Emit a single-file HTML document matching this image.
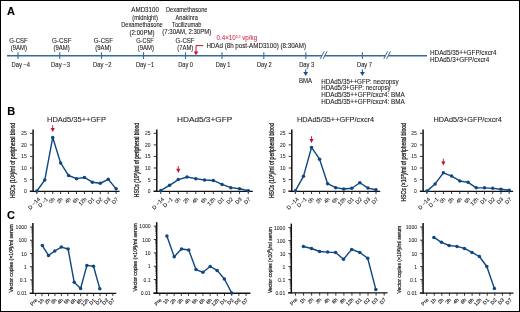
<!DOCTYPE html>
<html><head><meta charset="utf-8"><style>
html,body{margin:0;padding:0;background:#fff;}
svg{display:block;will-change:transform;}
text{font-family:"Liberation Sans", sans-serif;fill:#231f20;stroke:#231f20;stroke-width:0.1px;}
text.r{fill:#d21f45;stroke:#d21f45;stroke-width:0.05px;}
text.k{fill:#000;stroke:#000;}
</style></head><body>
<svg width="520" height="312" viewBox="0 0 520 312">
<rect x="0" y="0" width="520" height="312" fill="#fff"/>
<g fill="#231f20" class="t">
<text x="7.00" y="15.40" font-size="11" font-weight="bold" class="k">A</text>
<line x1="7.00" y1="55.70" x2="427.00" y2="55.70" stroke="#356a9a" stroke-width="1.4"/>
<line x1="18.00" y1="52.30" x2="18.00" y2="59.00" stroke="#356a9a" stroke-width="1.1"/>
<line x1="59.70" y1="52.30" x2="59.70" y2="59.00" stroke="#356a9a" stroke-width="1.1"/>
<line x1="101.50" y1="52.30" x2="101.50" y2="59.00" stroke="#356a9a" stroke-width="1.1"/>
<line x1="143.50" y1="52.30" x2="143.50" y2="59.00" stroke="#356a9a" stroke-width="1.1"/>
<line x1="185.50" y1="52.30" x2="185.50" y2="59.00" stroke="#356a9a" stroke-width="1.1"/>
<line x1="222.00" y1="52.30" x2="222.00" y2="59.00" stroke="#356a9a" stroke-width="1.1"/>
<line x1="263.80" y1="52.30" x2="263.80" y2="59.00" stroke="#356a9a" stroke-width="1.1"/>
<line x1="305.80" y1="52.30" x2="305.80" y2="59.00" stroke="#356a9a" stroke-width="1.1"/>
<line x1="362.40" y1="52.30" x2="362.40" y2="59.00" stroke="#356a9a" stroke-width="1.1"/>
<rect x="322.10" y="54.20" width="2.6" height="3" fill="#fff"/>
<line x1="320.40" y1="58.80" x2="324.20" y2="51.40" stroke="#356a9a" stroke-width="1.0"/>
<line x1="323.20" y1="58.80" x2="327.00" y2="51.40" stroke="#356a9a" stroke-width="1.0"/>
<rect x="385.50" y="54.20" width="2.6" height="3" fill="#fff"/>
<line x1="383.80" y1="58.80" x2="387.60" y2="51.40" stroke="#356a9a" stroke-width="1.0"/>
<line x1="386.60" y1="58.80" x2="390.40" y2="51.40" stroke="#356a9a" stroke-width="1.0"/>
<text x="9.15" y="42.90" font-size="6.4" textLength="18.65" lengthAdjust="spacingAndGlyphs">G-CSF</text>
<text x="10.80" y="50.10" font-size="6.4" textLength="16.10" lengthAdjust="spacingAndGlyphs">(9AM)</text>
<text x="11.50" y="66.90" font-size="6.4" textLength="18.60" lengthAdjust="spacingAndGlyphs">Day −4</text>
<text x="52.00" y="42.90" font-size="6.4" textLength="19.50" lengthAdjust="spacingAndGlyphs">G-CSF</text>
<text x="53.60" y="50.10" font-size="6.4" textLength="16.10" lengthAdjust="spacingAndGlyphs">(9AM)</text>
<text x="51.10" y="66.90" font-size="6.4" textLength="18.90" lengthAdjust="spacingAndGlyphs">Day −3</text>
<text x="93.80" y="42.90" font-size="6.4" textLength="19.20" lengthAdjust="spacingAndGlyphs">G-CSF</text>
<text x="95.20" y="50.10" font-size="6.4" textLength="16.10" lengthAdjust="spacingAndGlyphs">(9AM)</text>
<text x="93.00" y="66.90" font-size="6.4" textLength="18.50" lengthAdjust="spacingAndGlyphs">Day −2</text>
<text x="136.20" y="42.90" font-size="6.4" textLength="17.50" lengthAdjust="spacingAndGlyphs">G-CSF</text>
<text x="137.80" y="50.10" font-size="6.4" textLength="16.10" lengthAdjust="spacingAndGlyphs">(9AM)</text>
<text x="135.90" y="66.90" font-size="6.4" textLength="18.40" lengthAdjust="spacingAndGlyphs">Day −1</text>
<text x="175.60" y="42.90" font-size="6.4" textLength="19.00" lengthAdjust="spacingAndGlyphs">G-CSF</text>
<text x="177.30" y="50.10" font-size="6.4" textLength="15.90" lengthAdjust="spacingAndGlyphs">(7AM)</text>
<text x="178.20" y="66.90" font-size="6.4" textLength="14.80" lengthAdjust="spacingAndGlyphs">Day 0</text>
<text x="215.70" y="66.90" font-size="6.4" textLength="14.80" lengthAdjust="spacingAndGlyphs">Day 1</text>
<text x="256.90" y="66.90" font-size="6.4" textLength="14.80" lengthAdjust="spacingAndGlyphs">Day 2</text>
<text x="299.20" y="66.90" font-size="6.4" textLength="15.10" lengthAdjust="spacingAndGlyphs">Day 3</text>
<text x="357.00" y="66.90" font-size="6.4" textLength="15.00" lengthAdjust="spacingAndGlyphs">Day 7</text>
<text x="131.35" y="12.20" font-size="6.4" textLength="27.55" lengthAdjust="spacingAndGlyphs">AMD3100</text>
<text x="132.30" y="19.60" font-size="6.4" textLength="25.50" lengthAdjust="spacingAndGlyphs">(midnight)</text>
<text x="121.15" y="27.20" font-size="6.4" textLength="41.65" lengthAdjust="spacingAndGlyphs">Dexamethasone</text>
<text x="129.60" y="35.00" font-size="6.4" textLength="25.00" lengthAdjust="spacingAndGlyphs">(2:00PM)</text>
<text x="166.00" y="12.20" font-size="6.4" textLength="41.50" lengthAdjust="spacingAndGlyphs">Dexamethasone</text>
<text x="175.60" y="19.50" font-size="6.4" textLength="22.20" lengthAdjust="spacingAndGlyphs">Anakinra</text>
<text x="172.10" y="26.80" font-size="6.4" textLength="29.40" lengthAdjust="spacingAndGlyphs">Tocilizumab</text>
<text x="162.30" y="34.40" font-size="6.4" textLength="49.00" lengthAdjust="spacingAndGlyphs">(7:30AM, 2:30PM)</text>
<text class="r" x="216.5" y="40.2" font-size="6.3" textLength="40.7" lengthAdjust="spacingAndGlyphs">0.4×10<tspan font-size="4.3" dy="-2.4">12</tspan><tspan dy="2.4"> vp/kg</tspan></text>
<text x="206.40" y="48.20" font-size="6.4" textLength="99.60" lengthAdjust="spacingAndGlyphs">HDAd (8h post-AMD3100) (8:30AM)</text>
<path d="M203.2 45.6 H196 V52" fill="none" stroke="#c8102e" stroke-width="1"/>
<path d="M193.7 51.4 H198.3 L196 55.3 Z" fill="#c8102e"/>
<line x1="305.70" y1="69.40" x2="305.70" y2="73.10" stroke="#17508c" stroke-width="1"/>
<path d="M303.30 72.0 H308.10 L305.70 76.0 Z" fill="#17508c"/>
<line x1="362.40" y1="69.40" x2="362.40" y2="73.10" stroke="#17508c" stroke-width="1"/>
<path d="M360.00 72.0 H364.80 L362.40 76.0 Z" fill="#17508c"/>
<text x="299.00" y="83.00" font-size="6.4" textLength="13.00" lengthAdjust="spacingAndGlyphs">BMA</text>
<text x="321.25" y="83.60" font-size="6.3" textLength="77.25" lengthAdjust="spacingAndGlyphs">HDAd5/35++GFP: necropsy</text>
<text x="321.25" y="90.32" font-size="6.3" textLength="69.35" lengthAdjust="spacingAndGlyphs">HDAd5/3+GFP: necropsy</text>
<text x="321.25" y="97.04" font-size="6.3" textLength="83.45" lengthAdjust="spacingAndGlyphs">HDAd5/35++GFP/cxcr4: BMA</text>
<text x="321.25" y="103.76" font-size="6.3" textLength="83.45" lengthAdjust="spacingAndGlyphs">HDAd5/35++GFP/cxcr4: BMA</text>
<text x="430.00" y="54.50" font-size="6.4" textLength="66.50" lengthAdjust="spacingAndGlyphs">HDAd5/35++GFP/cxcr4</text>
<text x="430.00" y="61.50" font-size="6.4" textLength="59.20" lengthAdjust="spacingAndGlyphs">HDAd5/3+GFP/cxcr4</text>
<text x="7.20" y="115.10" font-size="11" font-weight="bold" class="k">B</text>
<text x="47.00" y="121.80" font-size="7.2" textLength="58.90" lengthAdjust="spacingAndGlyphs">HDAd5/35++GFP</text>
<line x1="33.10" y1="129.40" x2="33.10" y2="192.00" stroke="#111" stroke-width="1.5"/>
<line x1="29.80" y1="191.40" x2="119.60" y2="191.40" stroke="#111" stroke-width="1.4"/>
<line x1="30.00" y1="191.10" x2="32.80" y2="191.10" stroke="#231f20" stroke-width="0.9"/>
<text x="26.90" y="193.10" font-size="5.0" text-anchor="end" style="stroke-width:0.05px">0</text>
<line x1="30.00" y1="179.55" x2="32.80" y2="179.55" stroke="#231f20" stroke-width="0.9"/>
<text x="26.90" y="181.55" font-size="5.0" text-anchor="end" style="stroke-width:0.05px">5</text>
<line x1="30.00" y1="168.00" x2="32.80" y2="168.00" stroke="#231f20" stroke-width="0.9"/>
<text x="26.90" y="170.00" font-size="5.0" text-anchor="end" style="stroke-width:0.05px">10</text>
<line x1="30.00" y1="156.45" x2="32.80" y2="156.45" stroke="#231f20" stroke-width="0.9"/>
<text x="26.90" y="158.45" font-size="5.0" text-anchor="end" style="stroke-width:0.05px">15</text>
<line x1="30.00" y1="144.90" x2="32.80" y2="144.90" stroke="#231f20" stroke-width="0.9"/>
<text x="26.90" y="146.90" font-size="5.0" text-anchor="end" style="stroke-width:0.05px">20</text>
<line x1="30.00" y1="133.35" x2="32.80" y2="133.35" stroke="#231f20" stroke-width="0.9"/>
<text x="26.90" y="135.35" font-size="5.0" text-anchor="end" style="stroke-width:0.05px">25</text>
<line x1="36.85" y1="191.10" x2="36.85" y2="194.00" stroke="#231f20" stroke-width="0.9"/>
<text transform="translate(40.55,199.60) rotate(-45)" font-size="5.4" text-anchor="end" style="stroke-width:0.12px">D −14</text>
<line x1="44.78" y1="191.10" x2="44.78" y2="194.00" stroke="#231f20" stroke-width="0.9"/>
<text transform="translate(48.48,199.60) rotate(-45)" font-size="5.4" text-anchor="end" style="stroke-width:0.12px">D −1</text>
<line x1="52.71" y1="191.10" x2="52.71" y2="194.00" stroke="#231f20" stroke-width="0.9"/>
<text transform="translate(55.31,199.60) rotate(-45)" font-size="5.4" text-anchor="end" style="stroke-width:0.12px">0h</text>
<line x1="60.64" y1="191.10" x2="60.64" y2="194.00" stroke="#231f20" stroke-width="0.9"/>
<text transform="translate(63.24,199.60) rotate(-45)" font-size="5.4" text-anchor="end" style="stroke-width:0.12px">2h</text>
<line x1="68.57" y1="191.10" x2="68.57" y2="194.00" stroke="#231f20" stroke-width="0.9"/>
<text transform="translate(71.17,199.60) rotate(-45)" font-size="5.4" text-anchor="end" style="stroke-width:0.12px">4h</text>
<line x1="76.50" y1="191.10" x2="76.50" y2="194.00" stroke="#231f20" stroke-width="0.9"/>
<text transform="translate(79.10,199.60) rotate(-45)" font-size="5.4" text-anchor="end" style="stroke-width:0.12px">6h</text>
<line x1="84.43" y1="191.10" x2="84.43" y2="194.00" stroke="#231f20" stroke-width="0.9"/>
<text transform="translate(87.03,199.60) rotate(-45)" font-size="5.4" text-anchor="end" style="stroke-width:0.12px">12h</text>
<line x1="92.36" y1="191.10" x2="92.36" y2="194.00" stroke="#231f20" stroke-width="0.9"/>
<text transform="translate(94.96,199.60) rotate(-45)" font-size="5.4" text-anchor="end" style="stroke-width:0.12px">D1</text>
<line x1="100.29" y1="191.10" x2="100.29" y2="194.00" stroke="#231f20" stroke-width="0.9"/>
<text transform="translate(102.89,199.60) rotate(-45)" font-size="5.4" text-anchor="end" style="stroke-width:0.12px">D2</text>
<line x1="108.22" y1="191.10" x2="108.22" y2="194.00" stroke="#231f20" stroke-width="0.9"/>
<text transform="translate(110.82,199.60) rotate(-45)" font-size="5.4" text-anchor="end" style="stroke-width:0.12px">D3</text>
<line x1="116.15" y1="191.10" x2="116.15" y2="194.00" stroke="#231f20" stroke-width="0.9"/>
<text transform="translate(118.75,199.60) rotate(-45)" font-size="5.4" text-anchor="end" style="stroke-width:0.12px">D7</text>
<text transform="translate(15.40,160.45) rotate(-90)" font-size="6.4" text-anchor="middle" textLength="74.90" lengthAdjust="spacingAndGlyphs" style="stroke-width:0.3px">HSCs (10<tspan font-size="3.4" dy="-1.6">3</tspan><tspan dy="1.6">)/ml of peripheral blood</tspan></text>
<path d="M36.85 191.10 L44.78 180.01 L52.71 137.51 L60.64 162.92 L68.57 175.51 L76.50 178.63 L84.43 177.47 L92.36 182.21 L100.29 183.25 L108.22 179.32 L116.15 188.86" fill="none" stroke="#0e4781" stroke-width="1.4" stroke-linejoin="round"/>
<circle cx="36.85" cy="191.10" r="1.75" fill="#0e4781"/>
<circle cx="44.78" cy="180.01" r="1.75" fill="#0e4781"/>
<circle cx="52.71" cy="137.51" r="1.75" fill="#0e4781"/>
<circle cx="60.64" cy="162.92" r="1.75" fill="#0e4781"/>
<circle cx="68.57" cy="175.51" r="1.75" fill="#0e4781"/>
<circle cx="76.50" cy="178.63" r="1.75" fill="#0e4781"/>
<circle cx="84.43" cy="177.47" r="1.75" fill="#0e4781"/>
<circle cx="92.36" cy="182.21" r="1.75" fill="#0e4781"/>
<circle cx="100.29" cy="183.25" r="1.75" fill="#0e4781"/>
<circle cx="108.22" cy="179.32" r="1.75" fill="#0e4781"/>
<circle cx="116.15" cy="188.86" r="1.75" fill="#0e4781"/>
<line x1="52.71" y1="125.20" x2="52.71" y2="128.70" stroke="#c8102e" stroke-width="0.9"/>
<path d="M50.61 127.90 H54.81 L52.71 132.10 Z" fill="#c8102e"/>
<text x="177.00" y="121.80" font-size="7.2" textLength="55.20" lengthAdjust="spacingAndGlyphs">HDAd5/3+GFP</text>
<line x1="156.80" y1="129.40" x2="156.80" y2="192.00" stroke="#111" stroke-width="1.5"/>
<line x1="153.50" y1="191.40" x2="252.80" y2="191.40" stroke="#111" stroke-width="1.4"/>
<line x1="153.70" y1="191.10" x2="156.50" y2="191.10" stroke="#231f20" stroke-width="0.9"/>
<text x="150.60" y="193.10" font-size="5.0" text-anchor="end" style="stroke-width:0.05px">0</text>
<line x1="153.70" y1="179.55" x2="156.50" y2="179.55" stroke="#231f20" stroke-width="0.9"/>
<text x="150.60" y="181.55" font-size="5.0" text-anchor="end" style="stroke-width:0.05px">5</text>
<line x1="153.70" y1="168.00" x2="156.50" y2="168.00" stroke="#231f20" stroke-width="0.9"/>
<text x="150.60" y="170.00" font-size="5.0" text-anchor="end" style="stroke-width:0.05px">10</text>
<line x1="153.70" y1="156.45" x2="156.50" y2="156.45" stroke="#231f20" stroke-width="0.9"/>
<text x="150.60" y="158.45" font-size="5.0" text-anchor="end" style="stroke-width:0.05px">15</text>
<line x1="153.70" y1="144.90" x2="156.50" y2="144.90" stroke="#231f20" stroke-width="0.9"/>
<text x="150.60" y="146.90" font-size="5.0" text-anchor="end" style="stroke-width:0.05px">20</text>
<line x1="153.70" y1="133.35" x2="156.50" y2="133.35" stroke="#231f20" stroke-width="0.9"/>
<text x="150.60" y="135.35" font-size="5.0" text-anchor="end" style="stroke-width:0.05px">25</text>
<line x1="160.80" y1="191.10" x2="160.80" y2="194.00" stroke="#231f20" stroke-width="0.9"/>
<text transform="translate(164.50,199.60) rotate(-45)" font-size="5.4" text-anchor="end" style="stroke-width:0.12px">D −14</text>
<line x1="169.55" y1="191.10" x2="169.55" y2="194.00" stroke="#231f20" stroke-width="0.9"/>
<text transform="translate(173.25,199.60) rotate(-45)" font-size="5.4" text-anchor="end" style="stroke-width:0.12px">D −1</text>
<line x1="178.30" y1="191.10" x2="178.30" y2="194.00" stroke="#231f20" stroke-width="0.9"/>
<text transform="translate(180.90,199.60) rotate(-45)" font-size="5.4" text-anchor="end" style="stroke-width:0.12px">0h</text>
<line x1="187.05" y1="191.10" x2="187.05" y2="194.00" stroke="#231f20" stroke-width="0.9"/>
<text transform="translate(189.65,199.60) rotate(-45)" font-size="5.4" text-anchor="end" style="stroke-width:0.12px">2h</text>
<line x1="195.80" y1="191.10" x2="195.80" y2="194.00" stroke="#231f20" stroke-width="0.9"/>
<text transform="translate(198.40,199.60) rotate(-45)" font-size="5.4" text-anchor="end" style="stroke-width:0.12px">4h</text>
<line x1="204.55" y1="191.10" x2="204.55" y2="194.00" stroke="#231f20" stroke-width="0.9"/>
<text transform="translate(207.15,199.60) rotate(-45)" font-size="5.4" text-anchor="end" style="stroke-width:0.12px">6h</text>
<line x1="213.30" y1="191.10" x2="213.30" y2="194.00" stroke="#231f20" stroke-width="0.9"/>
<text transform="translate(215.90,199.60) rotate(-45)" font-size="5.4" text-anchor="end" style="stroke-width:0.12px">12h</text>
<line x1="222.05" y1="191.10" x2="222.05" y2="194.00" stroke="#231f20" stroke-width="0.9"/>
<text transform="translate(224.65,199.60) rotate(-45)" font-size="5.4" text-anchor="end" style="stroke-width:0.12px">D1</text>
<line x1="230.80" y1="191.10" x2="230.80" y2="194.00" stroke="#231f20" stroke-width="0.9"/>
<text transform="translate(233.40,199.60) rotate(-45)" font-size="5.4" text-anchor="end" style="stroke-width:0.12px">D2</text>
<line x1="239.55" y1="191.10" x2="239.55" y2="194.00" stroke="#231f20" stroke-width="0.9"/>
<text transform="translate(242.15,199.60) rotate(-45)" font-size="5.4" text-anchor="end" style="stroke-width:0.12px">D3</text>
<line x1="248.30" y1="191.10" x2="248.30" y2="194.00" stroke="#231f20" stroke-width="0.9"/>
<text transform="translate(250.90,199.60) rotate(-45)" font-size="5.4" text-anchor="end" style="stroke-width:0.12px">D7</text>
<text transform="translate(139.00,160.10) rotate(-90)" font-size="6.4" text-anchor="middle" textLength="74.20" lengthAdjust="spacingAndGlyphs" style="stroke-width:0.3px">HSCs (10<tspan font-size="3.4" dy="-1.6">3</tspan><tspan dy="1.6">)/ml of peripheral blood</tspan></text>
<path d="M160.80 190.41 L169.55 185.32 L178.30 179.55 L187.05 177.01 L195.80 178.63 L204.55 180.01 L213.30 180.47 L222.05 184.40 L230.80 187.63 L239.55 188.79 L248.30 190.75" fill="none" stroke="#0e4781" stroke-width="1.4" stroke-linejoin="round"/>
<circle cx="160.80" cy="190.41" r="1.75" fill="#0e4781"/>
<circle cx="169.55" cy="185.32" r="1.75" fill="#0e4781"/>
<circle cx="178.30" cy="179.55" r="1.75" fill="#0e4781"/>
<circle cx="187.05" cy="177.01" r="1.75" fill="#0e4781"/>
<circle cx="195.80" cy="178.63" r="1.75" fill="#0e4781"/>
<circle cx="204.55" cy="180.01" r="1.75" fill="#0e4781"/>
<circle cx="213.30" cy="180.47" r="1.75" fill="#0e4781"/>
<circle cx="222.05" cy="184.40" r="1.75" fill="#0e4781"/>
<circle cx="230.80" cy="187.63" r="1.75" fill="#0e4781"/>
<circle cx="239.55" cy="188.79" r="1.75" fill="#0e4781"/>
<circle cx="248.30" cy="190.75" r="1.75" fill="#0e4781"/>
<line x1="178.30" y1="166.00" x2="178.30" y2="169.50" stroke="#c8102e" stroke-width="0.9"/>
<path d="M176.20 168.70 H180.40 L178.30 172.90 Z" fill="#c8102e"/>
<text x="297.00" y="121.80" font-size="7.2" textLength="77.10" lengthAdjust="spacingAndGlyphs">HDAd5/35++GFP/cxcr4</text>
<line x1="291.80" y1="129.40" x2="291.80" y2="192.00" stroke="#111" stroke-width="1.5"/>
<line x1="288.50" y1="191.40" x2="380.20" y2="191.40" stroke="#111" stroke-width="1.4"/>
<line x1="288.70" y1="191.10" x2="291.50" y2="191.10" stroke="#231f20" stroke-width="0.9"/>
<text x="285.60" y="193.10" font-size="5.0" text-anchor="end" style="stroke-width:0.05px">0</text>
<line x1="288.70" y1="179.55" x2="291.50" y2="179.55" stroke="#231f20" stroke-width="0.9"/>
<text x="285.60" y="181.55" font-size="5.0" text-anchor="end" style="stroke-width:0.05px">5</text>
<line x1="288.70" y1="168.00" x2="291.50" y2="168.00" stroke="#231f20" stroke-width="0.9"/>
<text x="285.60" y="170.00" font-size="5.0" text-anchor="end" style="stroke-width:0.05px">10</text>
<line x1="288.70" y1="156.45" x2="291.50" y2="156.45" stroke="#231f20" stroke-width="0.9"/>
<text x="285.60" y="158.45" font-size="5.0" text-anchor="end" style="stroke-width:0.05px">15</text>
<line x1="288.70" y1="144.90" x2="291.50" y2="144.90" stroke="#231f20" stroke-width="0.9"/>
<text x="285.60" y="146.90" font-size="5.0" text-anchor="end" style="stroke-width:0.05px">20</text>
<line x1="288.70" y1="133.35" x2="291.50" y2="133.35" stroke="#231f20" stroke-width="0.9"/>
<text x="285.60" y="135.35" font-size="5.0" text-anchor="end" style="stroke-width:0.05px">25</text>
<line x1="295.40" y1="191.10" x2="295.40" y2="194.00" stroke="#231f20" stroke-width="0.9"/>
<text transform="translate(299.10,199.60) rotate(-45)" font-size="5.4" text-anchor="end" style="stroke-width:0.12px">D −14</text>
<line x1="303.46" y1="191.10" x2="303.46" y2="194.00" stroke="#231f20" stroke-width="0.9"/>
<text transform="translate(307.16,199.60) rotate(-45)" font-size="5.4" text-anchor="end" style="stroke-width:0.12px">D −1</text>
<line x1="311.52" y1="191.10" x2="311.52" y2="194.00" stroke="#231f20" stroke-width="0.9"/>
<text transform="translate(314.12,199.60) rotate(-45)" font-size="5.4" text-anchor="end" style="stroke-width:0.12px">0h</text>
<line x1="319.58" y1="191.10" x2="319.58" y2="194.00" stroke="#231f20" stroke-width="0.9"/>
<text transform="translate(322.18,199.60) rotate(-45)" font-size="5.4" text-anchor="end" style="stroke-width:0.12px">2h</text>
<line x1="327.64" y1="191.10" x2="327.64" y2="194.00" stroke="#231f20" stroke-width="0.9"/>
<text transform="translate(330.24,199.60) rotate(-45)" font-size="5.4" text-anchor="end" style="stroke-width:0.12px">4h</text>
<line x1="335.70" y1="191.10" x2="335.70" y2="194.00" stroke="#231f20" stroke-width="0.9"/>
<text transform="translate(338.30,199.60) rotate(-45)" font-size="5.4" text-anchor="end" style="stroke-width:0.12px">6h</text>
<line x1="343.76" y1="191.10" x2="343.76" y2="194.00" stroke="#231f20" stroke-width="0.9"/>
<text transform="translate(346.36,199.60) rotate(-45)" font-size="5.4" text-anchor="end" style="stroke-width:0.12px">12h</text>
<line x1="351.82" y1="191.10" x2="351.82" y2="194.00" stroke="#231f20" stroke-width="0.9"/>
<text transform="translate(354.42,199.60) rotate(-45)" font-size="5.4" text-anchor="end" style="stroke-width:0.12px">D1</text>
<line x1="359.88" y1="191.10" x2="359.88" y2="194.00" stroke="#231f20" stroke-width="0.9"/>
<text transform="translate(362.48,199.60) rotate(-45)" font-size="5.4" text-anchor="end" style="stroke-width:0.12px">D2</text>
<line x1="367.94" y1="191.10" x2="367.94" y2="194.00" stroke="#231f20" stroke-width="0.9"/>
<text transform="translate(370.54,199.60) rotate(-45)" font-size="5.4" text-anchor="end" style="stroke-width:0.12px">D3</text>
<line x1="376.00" y1="191.10" x2="376.00" y2="194.00" stroke="#231f20" stroke-width="0.9"/>
<text transform="translate(378.60,199.60) rotate(-45)" font-size="5.4" text-anchor="end" style="stroke-width:0.12px">D7</text>
<text transform="translate(274.00,160.70) rotate(-90)" font-size="6.4" text-anchor="middle" textLength="74.80" lengthAdjust="spacingAndGlyphs" style="stroke-width:0.3px">HSCs (10<tspan font-size="3.4" dy="-1.6">3</tspan><tspan dy="1.6">)/ml of peripheral blood</tspan></text>
<path d="M295.40 190.64 L303.46 176.32 L311.52 147.44 L319.58 159.22 L327.64 183.71 L335.70 187.63 L343.76 189.02 L351.82 188.21 L359.88 182.78 L367.94 188.10 L376.00 189.71" fill="none" stroke="#0e4781" stroke-width="1.4" stroke-linejoin="round"/>
<circle cx="295.40" cy="190.64" r="1.75" fill="#0e4781"/>
<circle cx="303.46" cy="176.32" r="1.75" fill="#0e4781"/>
<circle cx="311.52" cy="147.44" r="1.75" fill="#0e4781"/>
<circle cx="319.58" cy="159.22" r="1.75" fill="#0e4781"/>
<circle cx="327.64" cy="183.71" r="1.75" fill="#0e4781"/>
<circle cx="335.70" cy="187.63" r="1.75" fill="#0e4781"/>
<circle cx="343.76" cy="189.02" r="1.75" fill="#0e4781"/>
<circle cx="351.82" cy="188.21" r="1.75" fill="#0e4781"/>
<circle cx="359.88" cy="182.78" r="1.75" fill="#0e4781"/>
<circle cx="367.94" cy="188.10" r="1.75" fill="#0e4781"/>
<circle cx="376.00" cy="189.71" r="1.75" fill="#0e4781"/>
<line x1="311.52" y1="136.20" x2="311.52" y2="139.70" stroke="#c8102e" stroke-width="0.9"/>
<path d="M309.42 138.90 H313.62 L311.52 143.10 Z" fill="#c8102e"/>
<text x="433.50" y="121.80" font-size="7.2" textLength="68.30" lengthAdjust="spacingAndGlyphs">HDAd5/3+GFP/cxcr4</text>
<line x1="423.10" y1="129.40" x2="423.10" y2="192.00" stroke="#111" stroke-width="1.5"/>
<line x1="419.80" y1="191.40" x2="513.10" y2="191.40" stroke="#111" stroke-width="1.4"/>
<line x1="420.00" y1="191.10" x2="422.80" y2="191.10" stroke="#231f20" stroke-width="0.9"/>
<text x="416.90" y="193.10" font-size="5.0" text-anchor="end" style="stroke-width:0.05px">0</text>
<line x1="420.00" y1="179.55" x2="422.80" y2="179.55" stroke="#231f20" stroke-width="0.9"/>
<text x="416.90" y="181.55" font-size="5.0" text-anchor="end" style="stroke-width:0.05px">5</text>
<line x1="420.00" y1="168.00" x2="422.80" y2="168.00" stroke="#231f20" stroke-width="0.9"/>
<text x="416.90" y="170.00" font-size="5.0" text-anchor="end" style="stroke-width:0.05px">10</text>
<line x1="420.00" y1="156.45" x2="422.80" y2="156.45" stroke="#231f20" stroke-width="0.9"/>
<text x="416.90" y="158.45" font-size="5.0" text-anchor="end" style="stroke-width:0.05px">15</text>
<line x1="420.00" y1="144.90" x2="422.80" y2="144.90" stroke="#231f20" stroke-width="0.9"/>
<text x="416.90" y="146.90" font-size="5.0" text-anchor="end" style="stroke-width:0.05px">20</text>
<line x1="420.00" y1="133.35" x2="422.80" y2="133.35" stroke="#231f20" stroke-width="0.9"/>
<text x="416.90" y="135.35" font-size="5.0" text-anchor="end" style="stroke-width:0.05px">25</text>
<line x1="426.90" y1="191.10" x2="426.90" y2="194.00" stroke="#231f20" stroke-width="0.9"/>
<text transform="translate(430.60,199.60) rotate(-45)" font-size="5.4" text-anchor="end" style="stroke-width:0.12px">D −14</text>
<line x1="435.13" y1="191.10" x2="435.13" y2="194.00" stroke="#231f20" stroke-width="0.9"/>
<text transform="translate(438.83,199.60) rotate(-45)" font-size="5.4" text-anchor="end" style="stroke-width:0.12px">D −1</text>
<line x1="443.36" y1="191.10" x2="443.36" y2="194.00" stroke="#231f20" stroke-width="0.9"/>
<text transform="translate(445.96,199.60) rotate(-45)" font-size="5.4" text-anchor="end" style="stroke-width:0.12px">0h</text>
<line x1="451.59" y1="191.10" x2="451.59" y2="194.00" stroke="#231f20" stroke-width="0.9"/>
<text transform="translate(454.19,199.60) rotate(-45)" font-size="5.4" text-anchor="end" style="stroke-width:0.12px">2h</text>
<line x1="459.82" y1="191.10" x2="459.82" y2="194.00" stroke="#231f20" stroke-width="0.9"/>
<text transform="translate(462.42,199.60) rotate(-45)" font-size="5.4" text-anchor="end" style="stroke-width:0.12px">4h</text>
<line x1="468.05" y1="191.10" x2="468.05" y2="194.00" stroke="#231f20" stroke-width="0.9"/>
<text transform="translate(470.65,199.60) rotate(-45)" font-size="5.4" text-anchor="end" style="stroke-width:0.12px">6h</text>
<line x1="476.28" y1="191.10" x2="476.28" y2="194.00" stroke="#231f20" stroke-width="0.9"/>
<text transform="translate(478.88,199.60) rotate(-45)" font-size="5.4" text-anchor="end" style="stroke-width:0.12px">12h</text>
<line x1="484.51" y1="191.10" x2="484.51" y2="194.00" stroke="#231f20" stroke-width="0.9"/>
<text transform="translate(487.11,199.60) rotate(-45)" font-size="5.4" text-anchor="end" style="stroke-width:0.12px">D1</text>
<line x1="492.74" y1="191.10" x2="492.74" y2="194.00" stroke="#231f20" stroke-width="0.9"/>
<text transform="translate(495.34,199.60) rotate(-45)" font-size="5.4" text-anchor="end" style="stroke-width:0.12px">D2</text>
<line x1="500.97" y1="191.10" x2="500.97" y2="194.00" stroke="#231f20" stroke-width="0.9"/>
<text transform="translate(503.57,199.60) rotate(-45)" font-size="5.4" text-anchor="end" style="stroke-width:0.12px">D3</text>
<line x1="509.20" y1="191.10" x2="509.20" y2="194.00" stroke="#231f20" stroke-width="0.9"/>
<text transform="translate(511.80,199.60) rotate(-45)" font-size="5.4" text-anchor="end" style="stroke-width:0.12px">D7</text>
<text transform="translate(405.80,162.35) rotate(-90)" font-size="6.4" text-anchor="middle" textLength="78.50" lengthAdjust="spacingAndGlyphs" style="stroke-width:0.3px">HSCs (×10<tspan font-size="3.4" dy="-1.6">3</tspan><tspan dy="1.6">)/ml of peripheral blood</tspan></text>
<path d="M426.90 191.10 L435.13 183.94 L443.36 172.85 L451.59 176.08 L459.82 180.94 L468.05 182.32 L476.28 187.87 L484.51 187.87 L492.74 188.33 L500.97 189.25 L509.20 190.18" fill="none" stroke="#0e4781" stroke-width="1.4" stroke-linejoin="round"/>
<circle cx="426.90" cy="191.10" r="1.75" fill="#0e4781"/>
<circle cx="435.13" cy="183.94" r="1.75" fill="#0e4781"/>
<circle cx="443.36" cy="172.85" r="1.75" fill="#0e4781"/>
<circle cx="451.59" cy="176.08" r="1.75" fill="#0e4781"/>
<circle cx="459.82" cy="180.94" r="1.75" fill="#0e4781"/>
<circle cx="468.05" cy="182.32" r="1.75" fill="#0e4781"/>
<circle cx="476.28" cy="187.87" r="1.75" fill="#0e4781"/>
<circle cx="484.51" cy="187.87" r="1.75" fill="#0e4781"/>
<circle cx="492.74" cy="188.33" r="1.75" fill="#0e4781"/>
<circle cx="500.97" cy="189.25" r="1.75" fill="#0e4781"/>
<circle cx="509.20" cy="190.18" r="1.75" fill="#0e4781"/>
<line x1="443.36" y1="158.70" x2="443.36" y2="162.20" stroke="#c8102e" stroke-width="0.9"/>
<path d="M441.26 161.40 H445.46 L443.36 165.60 Z" fill="#c8102e"/>
<text x="6.90" y="219.40" font-size="11" font-weight="bold" class="k">C</text>
<line x1="32.90" y1="223.00" x2="32.90" y2="294.00" stroke="#111" stroke-width="1.5"/>
<line x1="29.60" y1="293.40" x2="116.30" y2="293.40" stroke="#111" stroke-width="1.4"/>
<line x1="30.00" y1="293.10" x2="32.60" y2="293.10" stroke="#231f20" stroke-width="0.9"/>
<text x="26.90" y="295.30" font-size="5.1" text-anchor="end" style="stroke-width:0.05px">0.01</text>
<line x1="31.40" y1="289.12" x2="32.60" y2="289.12" stroke="#231f20" stroke-width="0.6"/>
<line x1="31.40" y1="286.79" x2="32.60" y2="286.79" stroke="#231f20" stroke-width="0.6"/>
<line x1="31.40" y1="285.14" x2="32.60" y2="285.14" stroke="#231f20" stroke-width="0.6"/>
<line x1="31.40" y1="283.86" x2="32.60" y2="283.86" stroke="#231f20" stroke-width="0.6"/>
<line x1="31.40" y1="282.81" x2="32.60" y2="282.81" stroke="#231f20" stroke-width="0.6"/>
<line x1="31.40" y1="281.93" x2="32.60" y2="281.93" stroke="#231f20" stroke-width="0.6"/>
<line x1="31.40" y1="281.16" x2="32.60" y2="281.16" stroke="#231f20" stroke-width="0.6"/>
<line x1="31.40" y1="280.48" x2="32.60" y2="280.48" stroke="#231f20" stroke-width="0.6"/>
<line x1="30.00" y1="279.88" x2="32.60" y2="279.88" stroke="#231f20" stroke-width="0.9"/>
<text x="26.90" y="282.08" font-size="5.1" text-anchor="end" style="stroke-width:0.05px">0.1</text>
<line x1="31.40" y1="275.90" x2="32.60" y2="275.90" stroke="#231f20" stroke-width="0.6"/>
<line x1="31.40" y1="273.57" x2="32.60" y2="273.57" stroke="#231f20" stroke-width="0.6"/>
<line x1="31.40" y1="271.92" x2="32.60" y2="271.92" stroke="#231f20" stroke-width="0.6"/>
<line x1="31.40" y1="270.64" x2="32.60" y2="270.64" stroke="#231f20" stroke-width="0.6"/>
<line x1="31.40" y1="269.59" x2="32.60" y2="269.59" stroke="#231f20" stroke-width="0.6"/>
<line x1="31.40" y1="268.71" x2="32.60" y2="268.71" stroke="#231f20" stroke-width="0.6"/>
<line x1="31.40" y1="267.94" x2="32.60" y2="267.94" stroke="#231f20" stroke-width="0.6"/>
<line x1="31.40" y1="267.26" x2="32.60" y2="267.26" stroke="#231f20" stroke-width="0.6"/>
<line x1="30.00" y1="266.66" x2="32.60" y2="266.66" stroke="#231f20" stroke-width="0.9"/>
<text x="26.90" y="268.86" font-size="5.1" text-anchor="end" style="stroke-width:0.05px">1</text>
<line x1="31.40" y1="262.68" x2="32.60" y2="262.68" stroke="#231f20" stroke-width="0.6"/>
<line x1="31.40" y1="260.35" x2="32.60" y2="260.35" stroke="#231f20" stroke-width="0.6"/>
<line x1="31.40" y1="258.70" x2="32.60" y2="258.70" stroke="#231f20" stroke-width="0.6"/>
<line x1="31.40" y1="257.42" x2="32.60" y2="257.42" stroke="#231f20" stroke-width="0.6"/>
<line x1="31.40" y1="256.37" x2="32.60" y2="256.37" stroke="#231f20" stroke-width="0.6"/>
<line x1="31.40" y1="255.49" x2="32.60" y2="255.49" stroke="#231f20" stroke-width="0.6"/>
<line x1="31.40" y1="254.72" x2="32.60" y2="254.72" stroke="#231f20" stroke-width="0.6"/>
<line x1="31.40" y1="254.04" x2="32.60" y2="254.04" stroke="#231f20" stroke-width="0.6"/>
<line x1="30.00" y1="253.44" x2="32.60" y2="253.44" stroke="#231f20" stroke-width="0.9"/>
<text x="26.90" y="255.64" font-size="5.1" text-anchor="end" style="stroke-width:0.05px">10</text>
<line x1="31.40" y1="249.46" x2="32.60" y2="249.46" stroke="#231f20" stroke-width="0.6"/>
<line x1="31.40" y1="247.13" x2="32.60" y2="247.13" stroke="#231f20" stroke-width="0.6"/>
<line x1="31.40" y1="245.48" x2="32.60" y2="245.48" stroke="#231f20" stroke-width="0.6"/>
<line x1="31.40" y1="244.20" x2="32.60" y2="244.20" stroke="#231f20" stroke-width="0.6"/>
<line x1="31.40" y1="243.15" x2="32.60" y2="243.15" stroke="#231f20" stroke-width="0.6"/>
<line x1="31.40" y1="242.27" x2="32.60" y2="242.27" stroke="#231f20" stroke-width="0.6"/>
<line x1="31.40" y1="241.50" x2="32.60" y2="241.50" stroke="#231f20" stroke-width="0.6"/>
<line x1="31.40" y1="240.82" x2="32.60" y2="240.82" stroke="#231f20" stroke-width="0.6"/>
<line x1="30.00" y1="240.22" x2="32.60" y2="240.22" stroke="#231f20" stroke-width="0.9"/>
<text x="26.90" y="242.42" font-size="5.1" text-anchor="end" style="stroke-width:0.05px">100</text>
<line x1="31.40" y1="236.24" x2="32.60" y2="236.24" stroke="#231f20" stroke-width="0.6"/>
<line x1="31.40" y1="233.91" x2="32.60" y2="233.91" stroke="#231f20" stroke-width="0.6"/>
<line x1="31.40" y1="232.26" x2="32.60" y2="232.26" stroke="#231f20" stroke-width="0.6"/>
<line x1="31.40" y1="230.98" x2="32.60" y2="230.98" stroke="#231f20" stroke-width="0.6"/>
<line x1="31.40" y1="229.93" x2="32.60" y2="229.93" stroke="#231f20" stroke-width="0.6"/>
<line x1="31.40" y1="229.05" x2="32.60" y2="229.05" stroke="#231f20" stroke-width="0.6"/>
<line x1="31.40" y1="228.28" x2="32.60" y2="228.28" stroke="#231f20" stroke-width="0.6"/>
<line x1="31.40" y1="227.60" x2="32.60" y2="227.60" stroke="#231f20" stroke-width="0.6"/>
<line x1="30.00" y1="227.00" x2="32.60" y2="227.00" stroke="#231f20" stroke-width="0.9"/>
<text x="26.90" y="229.20" font-size="5.1" text-anchor="end" style="stroke-width:0.05px">1000</text>
<line x1="35.60" y1="293.10" x2="35.60" y2="296.10" stroke="#231f20" stroke-width="0.9"/>
<text transform="translate(37.80,300.60) rotate(-45)" font-size="5.1" text-anchor="end" style="stroke-width:0.15px">Pre</text>
<line x1="42.04" y1="293.10" x2="42.04" y2="296.10" stroke="#231f20" stroke-width="0.9"/>
<text transform="translate(44.24,300.60) rotate(-45)" font-size="5.1" text-anchor="end" style="stroke-width:0.15px">1h</text>
<line x1="48.48" y1="293.10" x2="48.48" y2="296.10" stroke="#231f20" stroke-width="0.9"/>
<text transform="translate(50.68,300.60) rotate(-45)" font-size="5.1" text-anchor="end" style="stroke-width:0.15px">2h</text>
<line x1="54.92" y1="293.10" x2="54.92" y2="296.10" stroke="#231f20" stroke-width="0.9"/>
<text transform="translate(57.12,300.60) rotate(-45)" font-size="5.1" text-anchor="end" style="stroke-width:0.15px">3h</text>
<line x1="61.36" y1="293.10" x2="61.36" y2="296.10" stroke="#231f20" stroke-width="0.9"/>
<text transform="translate(63.56,300.60) rotate(-45)" font-size="5.1" text-anchor="end" style="stroke-width:0.15px">4h</text>
<line x1="67.80" y1="293.10" x2="67.80" y2="296.10" stroke="#231f20" stroke-width="0.9"/>
<text transform="translate(70.00,300.60) rotate(-45)" font-size="5.1" text-anchor="end" style="stroke-width:0.15px">5h</text>
<line x1="74.24" y1="293.10" x2="74.24" y2="296.10" stroke="#231f20" stroke-width="0.9"/>
<text transform="translate(76.44,300.60) rotate(-45)" font-size="5.1" text-anchor="end" style="stroke-width:0.15px">6h</text>
<line x1="80.68" y1="293.10" x2="80.68" y2="296.10" stroke="#231f20" stroke-width="0.9"/>
<text transform="translate(82.88,300.60) rotate(-45)" font-size="5.1" text-anchor="end" style="stroke-width:0.15px">8h</text>
<line x1="87.12" y1="293.10" x2="87.12" y2="296.10" stroke="#231f20" stroke-width="0.9"/>
<text transform="translate(89.32,300.60) rotate(-45)" font-size="5.1" text-anchor="end" style="stroke-width:0.15px">12h</text>
<line x1="93.56" y1="293.10" x2="93.56" y2="296.10" stroke="#231f20" stroke-width="0.9"/>
<text transform="translate(95.76,300.60) rotate(-45)" font-size="5.1" text-anchor="end" style="stroke-width:0.15px">D1</text>
<line x1="100.00" y1="293.10" x2="100.00" y2="296.10" stroke="#231f20" stroke-width="0.9"/>
<text transform="translate(102.20,300.60) rotate(-45)" font-size="5.1" text-anchor="end" style="stroke-width:0.15px">D2</text>
<line x1="106.44" y1="293.10" x2="106.44" y2="296.10" stroke="#231f20" stroke-width="0.9"/>
<text transform="translate(108.64,300.60) rotate(-45)" font-size="5.1" text-anchor="end" style="stroke-width:0.15px">D3</text>
<line x1="112.88" y1="293.10" x2="112.88" y2="296.10" stroke="#231f20" stroke-width="0.9"/>
<text transform="translate(115.08,300.60) rotate(-45)" font-size="5.1" text-anchor="end" style="stroke-width:0.15px">D7</text>
<text transform="translate(13.30,258.40) rotate(-90)" font-size="6.0" text-anchor="middle" textLength="68.40" lengthAdjust="spacingAndGlyphs" style="stroke-width:0.25px">Vector copies (×10<tspan font-size="3.4" dy="-1.6">8</tspan><tspan dy="1.6">)/ml serum</tspan></text>
<path d="M42.30 245.60 L48.50 255.40 L54.80 251.00 L61.30 247.10 L68.10 249.00 L74.20 282.30 L80.60 288.50 L86.90 265.40 L93.50 266.30 L99.80 288.80" fill="none" stroke="#0e4781" stroke-width="1.4" stroke-linejoin="round"/>
<circle cx="42.30" cy="245.60" r="1.75" fill="#0e4781"/>
<circle cx="48.50" cy="255.40" r="1.75" fill="#0e4781"/>
<circle cx="54.80" cy="251.00" r="1.75" fill="#0e4781"/>
<circle cx="61.30" cy="247.10" r="1.75" fill="#0e4781"/>
<circle cx="68.10" cy="249.00" r="1.75" fill="#0e4781"/>
<circle cx="74.20" cy="282.30" r="1.75" fill="#0e4781"/>
<circle cx="80.60" cy="288.50" r="1.75" fill="#0e4781"/>
<circle cx="86.90" cy="265.40" r="1.75" fill="#0e4781"/>
<circle cx="93.50" cy="266.30" r="1.75" fill="#0e4781"/>
<circle cx="99.80" cy="288.80" r="1.75" fill="#0e4781"/>
<line x1="156.70" y1="222.20" x2="156.70" y2="293.80" stroke="#111" stroke-width="1.5"/>
<line x1="153.40" y1="293.20" x2="250.40" y2="293.20" stroke="#111" stroke-width="1.4"/>
<line x1="153.80" y1="292.90" x2="156.40" y2="292.90" stroke="#231f20" stroke-width="0.9"/>
<text x="150.70" y="295.10" font-size="5.1" text-anchor="end" style="stroke-width:0.05px">0.01</text>
<line x1="155.20" y1="288.88" x2="156.40" y2="288.88" stroke="#231f20" stroke-width="0.6"/>
<line x1="155.20" y1="286.54" x2="156.40" y2="286.54" stroke="#231f20" stroke-width="0.6"/>
<line x1="155.20" y1="284.87" x2="156.40" y2="284.87" stroke="#231f20" stroke-width="0.6"/>
<line x1="155.20" y1="283.58" x2="156.40" y2="283.58" stroke="#231f20" stroke-width="0.6"/>
<line x1="155.20" y1="282.52" x2="156.40" y2="282.52" stroke="#231f20" stroke-width="0.6"/>
<line x1="155.20" y1="281.63" x2="156.40" y2="281.63" stroke="#231f20" stroke-width="0.6"/>
<line x1="155.20" y1="280.85" x2="156.40" y2="280.85" stroke="#231f20" stroke-width="0.6"/>
<line x1="155.20" y1="280.17" x2="156.40" y2="280.17" stroke="#231f20" stroke-width="0.6"/>
<line x1="153.80" y1="279.56" x2="156.40" y2="279.56" stroke="#231f20" stroke-width="0.9"/>
<text x="150.70" y="281.76" font-size="5.1" text-anchor="end" style="stroke-width:0.05px">0.1</text>
<line x1="155.20" y1="275.54" x2="156.40" y2="275.54" stroke="#231f20" stroke-width="0.6"/>
<line x1="155.20" y1="273.20" x2="156.40" y2="273.20" stroke="#231f20" stroke-width="0.6"/>
<line x1="155.20" y1="271.53" x2="156.40" y2="271.53" stroke="#231f20" stroke-width="0.6"/>
<line x1="155.20" y1="270.24" x2="156.40" y2="270.24" stroke="#231f20" stroke-width="0.6"/>
<line x1="155.20" y1="269.18" x2="156.40" y2="269.18" stroke="#231f20" stroke-width="0.6"/>
<line x1="155.20" y1="268.29" x2="156.40" y2="268.29" stroke="#231f20" stroke-width="0.6"/>
<line x1="155.20" y1="267.51" x2="156.40" y2="267.51" stroke="#231f20" stroke-width="0.6"/>
<line x1="155.20" y1="266.83" x2="156.40" y2="266.83" stroke="#231f20" stroke-width="0.6"/>
<line x1="153.80" y1="266.22" x2="156.40" y2="266.22" stroke="#231f20" stroke-width="0.9"/>
<text x="150.70" y="268.42" font-size="5.1" text-anchor="end" style="stroke-width:0.05px">1</text>
<line x1="155.20" y1="262.20" x2="156.40" y2="262.20" stroke="#231f20" stroke-width="0.6"/>
<line x1="155.20" y1="259.86" x2="156.40" y2="259.86" stroke="#231f20" stroke-width="0.6"/>
<line x1="155.20" y1="258.19" x2="156.40" y2="258.19" stroke="#231f20" stroke-width="0.6"/>
<line x1="155.20" y1="256.90" x2="156.40" y2="256.90" stroke="#231f20" stroke-width="0.6"/>
<line x1="155.20" y1="255.84" x2="156.40" y2="255.84" stroke="#231f20" stroke-width="0.6"/>
<line x1="155.20" y1="254.95" x2="156.40" y2="254.95" stroke="#231f20" stroke-width="0.6"/>
<line x1="155.20" y1="254.17" x2="156.40" y2="254.17" stroke="#231f20" stroke-width="0.6"/>
<line x1="155.20" y1="253.49" x2="156.40" y2="253.49" stroke="#231f20" stroke-width="0.6"/>
<line x1="153.80" y1="252.88" x2="156.40" y2="252.88" stroke="#231f20" stroke-width="0.9"/>
<text x="150.70" y="255.08" font-size="5.1" text-anchor="end" style="stroke-width:0.05px">10</text>
<line x1="155.20" y1="248.86" x2="156.40" y2="248.86" stroke="#231f20" stroke-width="0.6"/>
<line x1="155.20" y1="246.52" x2="156.40" y2="246.52" stroke="#231f20" stroke-width="0.6"/>
<line x1="155.20" y1="244.85" x2="156.40" y2="244.85" stroke="#231f20" stroke-width="0.6"/>
<line x1="155.20" y1="243.56" x2="156.40" y2="243.56" stroke="#231f20" stroke-width="0.6"/>
<line x1="155.20" y1="242.50" x2="156.40" y2="242.50" stroke="#231f20" stroke-width="0.6"/>
<line x1="155.20" y1="241.61" x2="156.40" y2="241.61" stroke="#231f20" stroke-width="0.6"/>
<line x1="155.20" y1="240.83" x2="156.40" y2="240.83" stroke="#231f20" stroke-width="0.6"/>
<line x1="155.20" y1="240.15" x2="156.40" y2="240.15" stroke="#231f20" stroke-width="0.6"/>
<line x1="153.80" y1="239.54" x2="156.40" y2="239.54" stroke="#231f20" stroke-width="0.9"/>
<text x="150.70" y="241.74" font-size="5.1" text-anchor="end" style="stroke-width:0.05px">100</text>
<line x1="155.20" y1="235.52" x2="156.40" y2="235.52" stroke="#231f20" stroke-width="0.6"/>
<line x1="155.20" y1="233.18" x2="156.40" y2="233.18" stroke="#231f20" stroke-width="0.6"/>
<line x1="155.20" y1="231.51" x2="156.40" y2="231.51" stroke="#231f20" stroke-width="0.6"/>
<line x1="155.20" y1="230.22" x2="156.40" y2="230.22" stroke="#231f20" stroke-width="0.6"/>
<line x1="155.20" y1="229.16" x2="156.40" y2="229.16" stroke="#231f20" stroke-width="0.6"/>
<line x1="155.20" y1="228.27" x2="156.40" y2="228.27" stroke="#231f20" stroke-width="0.6"/>
<line x1="155.20" y1="227.49" x2="156.40" y2="227.49" stroke="#231f20" stroke-width="0.6"/>
<line x1="155.20" y1="226.81" x2="156.40" y2="226.81" stroke="#231f20" stroke-width="0.6"/>
<line x1="153.80" y1="226.20" x2="156.40" y2="226.20" stroke="#231f20" stroke-width="0.9"/>
<text x="150.70" y="228.40" font-size="5.1" text-anchor="end" style="stroke-width:0.05px">1000</text>
<line x1="159.80" y1="292.90" x2="159.80" y2="295.90" stroke="#231f20" stroke-width="0.9"/>
<text transform="translate(162.00,300.40) rotate(-45)" font-size="5.1" text-anchor="end" style="stroke-width:0.15px">Pre</text>
<line x1="166.99" y1="292.90" x2="166.99" y2="295.90" stroke="#231f20" stroke-width="0.9"/>
<text transform="translate(169.19,300.40) rotate(-45)" font-size="5.1" text-anchor="end" style="stroke-width:0.15px">1h</text>
<line x1="174.18" y1="292.90" x2="174.18" y2="295.90" stroke="#231f20" stroke-width="0.9"/>
<text transform="translate(176.38,300.40) rotate(-45)" font-size="5.1" text-anchor="end" style="stroke-width:0.15px">2h</text>
<line x1="181.37" y1="292.90" x2="181.37" y2="295.90" stroke="#231f20" stroke-width="0.9"/>
<text transform="translate(183.57,300.40) rotate(-45)" font-size="5.1" text-anchor="end" style="stroke-width:0.15px">3h</text>
<line x1="188.56" y1="292.90" x2="188.56" y2="295.90" stroke="#231f20" stroke-width="0.9"/>
<text transform="translate(190.76,300.40) rotate(-45)" font-size="5.1" text-anchor="end" style="stroke-width:0.15px">4h</text>
<line x1="195.75" y1="292.90" x2="195.75" y2="295.90" stroke="#231f20" stroke-width="0.9"/>
<text transform="translate(197.95,300.40) rotate(-45)" font-size="5.1" text-anchor="end" style="stroke-width:0.15px">5h</text>
<line x1="202.94" y1="292.90" x2="202.94" y2="295.90" stroke="#231f20" stroke-width="0.9"/>
<text transform="translate(205.14,300.40) rotate(-45)" font-size="5.1" text-anchor="end" style="stroke-width:0.15px">6h</text>
<line x1="210.13" y1="292.90" x2="210.13" y2="295.90" stroke="#231f20" stroke-width="0.9"/>
<text transform="translate(212.33,300.40) rotate(-45)" font-size="5.1" text-anchor="end" style="stroke-width:0.15px">8h</text>
<line x1="217.32" y1="292.90" x2="217.32" y2="295.90" stroke="#231f20" stroke-width="0.9"/>
<text transform="translate(219.52,300.40) rotate(-45)" font-size="5.1" text-anchor="end" style="stroke-width:0.15px">12h</text>
<line x1="224.51" y1="292.90" x2="224.51" y2="295.90" stroke="#231f20" stroke-width="0.9"/>
<text transform="translate(226.71,300.40) rotate(-45)" font-size="5.1" text-anchor="end" style="stroke-width:0.15px">D1</text>
<line x1="231.70" y1="292.90" x2="231.70" y2="295.90" stroke="#231f20" stroke-width="0.9"/>
<text transform="translate(233.90,300.40) rotate(-45)" font-size="5.1" text-anchor="end" style="stroke-width:0.15px">D2</text>
<line x1="238.89" y1="292.90" x2="238.89" y2="295.90" stroke="#231f20" stroke-width="0.9"/>
<text transform="translate(241.09,300.40) rotate(-45)" font-size="5.1" text-anchor="end" style="stroke-width:0.15px">D3</text>
<line x1="246.08" y1="292.90" x2="246.08" y2="295.90" stroke="#231f20" stroke-width="0.9"/>
<text transform="translate(248.28,300.40) rotate(-45)" font-size="5.1" text-anchor="end" style="stroke-width:0.15px">D7</text>
<text transform="translate(137.10,257.40) rotate(-90)" font-size="6.0" text-anchor="middle" textLength="68.40" lengthAdjust="spacingAndGlyphs" style="stroke-width:0.25px">Vector copies (×10<tspan font-size="3.4" dy="-1.6">8</tspan><tspan dy="1.6">)/ml serum</tspan></text>
<path d="M166.90 236.00 L174.20 256.70 L181.50 249.00 L188.75 250.00 L196.00 269.60 L202.90 272.30 L210.20 266.50 L217.10 270.40 L224.40 279.00 L231.70 292.90" fill="none" stroke="#0e4781" stroke-width="1.4" stroke-linejoin="round"/>
<circle cx="166.90" cy="236.00" r="1.75" fill="#0e4781"/>
<circle cx="174.20" cy="256.70" r="1.75" fill="#0e4781"/>
<circle cx="181.50" cy="249.00" r="1.75" fill="#0e4781"/>
<circle cx="188.75" cy="250.00" r="1.75" fill="#0e4781"/>
<circle cx="196.00" cy="269.60" r="1.75" fill="#0e4781"/>
<circle cx="202.90" cy="272.30" r="1.75" fill="#0e4781"/>
<circle cx="210.20" cy="266.50" r="1.75" fill="#0e4781"/>
<circle cx="217.10" cy="270.40" r="1.75" fill="#0e4781"/>
<circle cx="224.40" cy="279.00" r="1.75" fill="#0e4781"/>
<circle cx="231.70" cy="292.90" r="1.75" fill="#0e4781"/>
<line x1="291.30" y1="223.60" x2="291.30" y2="293.50" stroke="#111" stroke-width="1.5"/>
<line x1="288.00" y1="292.90" x2="387.50" y2="292.90" stroke="#111" stroke-width="1.4"/>
<line x1="288.40" y1="292.60" x2="291.00" y2="292.60" stroke="#231f20" stroke-width="0.9"/>
<text x="285.30" y="294.80" font-size="5.1" text-anchor="end" style="stroke-width:0.05px">0.01</text>
<line x1="289.80" y1="288.69" x2="291.00" y2="288.69" stroke="#231f20" stroke-width="0.6"/>
<line x1="289.80" y1="286.40" x2="291.00" y2="286.40" stroke="#231f20" stroke-width="0.6"/>
<line x1="289.80" y1="284.77" x2="291.00" y2="284.77" stroke="#231f20" stroke-width="0.6"/>
<line x1="289.80" y1="283.51" x2="291.00" y2="283.51" stroke="#231f20" stroke-width="0.6"/>
<line x1="289.80" y1="282.48" x2="291.00" y2="282.48" stroke="#231f20" stroke-width="0.6"/>
<line x1="289.80" y1="281.61" x2="291.00" y2="281.61" stroke="#231f20" stroke-width="0.6"/>
<line x1="289.80" y1="280.86" x2="291.00" y2="280.86" stroke="#231f20" stroke-width="0.6"/>
<line x1="289.80" y1="280.19" x2="291.00" y2="280.19" stroke="#231f20" stroke-width="0.6"/>
<line x1="288.40" y1="279.60" x2="291.00" y2="279.60" stroke="#231f20" stroke-width="0.9"/>
<text x="285.30" y="281.80" font-size="5.1" text-anchor="end" style="stroke-width:0.05px">0.1</text>
<line x1="289.80" y1="275.69" x2="291.00" y2="275.69" stroke="#231f20" stroke-width="0.6"/>
<line x1="289.80" y1="273.40" x2="291.00" y2="273.40" stroke="#231f20" stroke-width="0.6"/>
<line x1="289.80" y1="271.77" x2="291.00" y2="271.77" stroke="#231f20" stroke-width="0.6"/>
<line x1="289.80" y1="270.51" x2="291.00" y2="270.51" stroke="#231f20" stroke-width="0.6"/>
<line x1="289.80" y1="269.48" x2="291.00" y2="269.48" stroke="#231f20" stroke-width="0.6"/>
<line x1="289.80" y1="268.61" x2="291.00" y2="268.61" stroke="#231f20" stroke-width="0.6"/>
<line x1="289.80" y1="267.86" x2="291.00" y2="267.86" stroke="#231f20" stroke-width="0.6"/>
<line x1="289.80" y1="267.19" x2="291.00" y2="267.19" stroke="#231f20" stroke-width="0.6"/>
<line x1="288.40" y1="266.60" x2="291.00" y2="266.60" stroke="#231f20" stroke-width="0.9"/>
<text x="285.30" y="268.80" font-size="5.1" text-anchor="end" style="stroke-width:0.05px">1</text>
<line x1="289.80" y1="262.69" x2="291.00" y2="262.69" stroke="#231f20" stroke-width="0.6"/>
<line x1="289.80" y1="260.40" x2="291.00" y2="260.40" stroke="#231f20" stroke-width="0.6"/>
<line x1="289.80" y1="258.77" x2="291.00" y2="258.77" stroke="#231f20" stroke-width="0.6"/>
<line x1="289.80" y1="257.51" x2="291.00" y2="257.51" stroke="#231f20" stroke-width="0.6"/>
<line x1="289.80" y1="256.48" x2="291.00" y2="256.48" stroke="#231f20" stroke-width="0.6"/>
<line x1="289.80" y1="255.61" x2="291.00" y2="255.61" stroke="#231f20" stroke-width="0.6"/>
<line x1="289.80" y1="254.86" x2="291.00" y2="254.86" stroke="#231f20" stroke-width="0.6"/>
<line x1="289.80" y1="254.19" x2="291.00" y2="254.19" stroke="#231f20" stroke-width="0.6"/>
<line x1="288.40" y1="253.60" x2="291.00" y2="253.60" stroke="#231f20" stroke-width="0.9"/>
<text x="285.30" y="255.80" font-size="5.1" text-anchor="end" style="stroke-width:0.05px">10</text>
<line x1="289.80" y1="249.69" x2="291.00" y2="249.69" stroke="#231f20" stroke-width="0.6"/>
<line x1="289.80" y1="247.40" x2="291.00" y2="247.40" stroke="#231f20" stroke-width="0.6"/>
<line x1="289.80" y1="245.77" x2="291.00" y2="245.77" stroke="#231f20" stroke-width="0.6"/>
<line x1="289.80" y1="244.51" x2="291.00" y2="244.51" stroke="#231f20" stroke-width="0.6"/>
<line x1="289.80" y1="243.48" x2="291.00" y2="243.48" stroke="#231f20" stroke-width="0.6"/>
<line x1="289.80" y1="242.61" x2="291.00" y2="242.61" stroke="#231f20" stroke-width="0.6"/>
<line x1="289.80" y1="241.86" x2="291.00" y2="241.86" stroke="#231f20" stroke-width="0.6"/>
<line x1="289.80" y1="241.19" x2="291.00" y2="241.19" stroke="#231f20" stroke-width="0.6"/>
<line x1="288.40" y1="240.60" x2="291.00" y2="240.60" stroke="#231f20" stroke-width="0.9"/>
<text x="285.30" y="242.80" font-size="5.1" text-anchor="end" style="stroke-width:0.05px">100</text>
<line x1="289.80" y1="236.69" x2="291.00" y2="236.69" stroke="#231f20" stroke-width="0.6"/>
<line x1="289.80" y1="234.40" x2="291.00" y2="234.40" stroke="#231f20" stroke-width="0.6"/>
<line x1="289.80" y1="232.77" x2="291.00" y2="232.77" stroke="#231f20" stroke-width="0.6"/>
<line x1="289.80" y1="231.51" x2="291.00" y2="231.51" stroke="#231f20" stroke-width="0.6"/>
<line x1="289.80" y1="230.48" x2="291.00" y2="230.48" stroke="#231f20" stroke-width="0.6"/>
<line x1="289.80" y1="229.61" x2="291.00" y2="229.61" stroke="#231f20" stroke-width="0.6"/>
<line x1="289.80" y1="228.86" x2="291.00" y2="228.86" stroke="#231f20" stroke-width="0.6"/>
<line x1="289.80" y1="228.19" x2="291.00" y2="228.19" stroke="#231f20" stroke-width="0.6"/>
<line x1="288.40" y1="227.60" x2="291.00" y2="227.60" stroke="#231f20" stroke-width="0.9"/>
<text x="285.30" y="229.80" font-size="5.1" text-anchor="end" style="stroke-width:0.05px">1000</text>
<line x1="295.50" y1="292.60" x2="295.50" y2="295.60" stroke="#231f20" stroke-width="0.9"/>
<text transform="translate(297.70,300.10) rotate(-45)" font-size="5.1" text-anchor="end" style="stroke-width:0.15px">Pre</text>
<line x1="303.56" y1="292.60" x2="303.56" y2="295.60" stroke="#231f20" stroke-width="0.9"/>
<text transform="translate(305.76,300.10) rotate(-45)" font-size="5.1" text-anchor="end" style="stroke-width:0.15px">1h</text>
<line x1="311.62" y1="292.60" x2="311.62" y2="295.60" stroke="#231f20" stroke-width="0.9"/>
<text transform="translate(313.82,300.10) rotate(-45)" font-size="5.1" text-anchor="end" style="stroke-width:0.15px">2h</text>
<line x1="319.68" y1="292.60" x2="319.68" y2="295.60" stroke="#231f20" stroke-width="0.9"/>
<text transform="translate(321.88,300.10) rotate(-45)" font-size="5.1" text-anchor="end" style="stroke-width:0.15px">3h</text>
<line x1="327.74" y1="292.60" x2="327.74" y2="295.60" stroke="#231f20" stroke-width="0.9"/>
<text transform="translate(329.94,300.10) rotate(-45)" font-size="5.1" text-anchor="end" style="stroke-width:0.15px">4h</text>
<line x1="335.80" y1="292.60" x2="335.80" y2="295.60" stroke="#231f20" stroke-width="0.9"/>
<text transform="translate(338.00,300.10) rotate(-45)" font-size="5.1" text-anchor="end" style="stroke-width:0.15px">6h</text>
<line x1="343.86" y1="292.60" x2="343.86" y2="295.60" stroke="#231f20" stroke-width="0.9"/>
<text transform="translate(346.06,300.10) rotate(-45)" font-size="5.1" text-anchor="end" style="stroke-width:0.15px">8h</text>
<line x1="351.92" y1="292.60" x2="351.92" y2="295.60" stroke="#231f20" stroke-width="0.9"/>
<text transform="translate(354.12,300.10) rotate(-45)" font-size="5.1" text-anchor="end" style="stroke-width:0.15px">12h</text>
<line x1="359.98" y1="292.60" x2="359.98" y2="295.60" stroke="#231f20" stroke-width="0.9"/>
<text transform="translate(362.18,300.10) rotate(-45)" font-size="5.1" text-anchor="end" style="stroke-width:0.15px">D1</text>
<line x1="368.04" y1="292.60" x2="368.04" y2="295.60" stroke="#231f20" stroke-width="0.9"/>
<text transform="translate(370.24,300.10) rotate(-45)" font-size="5.1" text-anchor="end" style="stroke-width:0.15px">D2</text>
<line x1="376.10" y1="292.60" x2="376.10" y2="295.60" stroke="#231f20" stroke-width="0.9"/>
<text transform="translate(378.30,300.10) rotate(-45)" font-size="5.1" text-anchor="end" style="stroke-width:0.15px">D3</text>
<line x1="384.16" y1="292.60" x2="384.16" y2="295.60" stroke="#231f20" stroke-width="0.9"/>
<text transform="translate(386.36,300.10) rotate(-45)" font-size="5.1" text-anchor="end" style="stroke-width:0.15px">D7</text>
<text transform="translate(271.50,260.00) rotate(-90)" font-size="6.0" text-anchor="middle" textLength="65.80" lengthAdjust="spacingAndGlyphs" style="stroke-width:0.25px">Vector copies (×10<tspan font-size="3.4" dy="-1.6">8</tspan><tspan dy="1.6">)/ml serum</tspan></text>
<path d="M303.40 246.50 L311.50 248.50 L319.60 251.50 L327.70 252.10 L335.60 252.50 L343.50 259.20 L351.70 249.40 L359.80 252.50 L367.70 258.30 L375.80 289.40" fill="none" stroke="#0e4781" stroke-width="1.4" stroke-linejoin="round"/>
<circle cx="303.40" cy="246.50" r="1.75" fill="#0e4781"/>
<circle cx="311.50" cy="248.50" r="1.75" fill="#0e4781"/>
<circle cx="319.60" cy="251.50" r="1.75" fill="#0e4781"/>
<circle cx="327.70" cy="252.10" r="1.75" fill="#0e4781"/>
<circle cx="335.60" cy="252.50" r="1.75" fill="#0e4781"/>
<circle cx="343.50" cy="259.20" r="1.75" fill="#0e4781"/>
<circle cx="351.70" cy="249.40" r="1.75" fill="#0e4781"/>
<circle cx="359.80" cy="252.50" r="1.75" fill="#0e4781"/>
<circle cx="367.70" cy="258.30" r="1.75" fill="#0e4781"/>
<circle cx="375.80" cy="289.40" r="1.75" fill="#0e4781"/>
<line x1="423.10" y1="223.00" x2="423.10" y2="293.70" stroke="#111" stroke-width="1.5"/>
<line x1="419.80" y1="293.10" x2="513.50" y2="293.10" stroke="#111" stroke-width="1.4"/>
<line x1="420.20" y1="292.80" x2="422.80" y2="292.80" stroke="#231f20" stroke-width="0.9"/>
<text x="417.10" y="295.00" font-size="5.1" text-anchor="end" style="stroke-width:0.05px">0.01</text>
<line x1="421.60" y1="288.84" x2="422.80" y2="288.84" stroke="#231f20" stroke-width="0.6"/>
<line x1="421.60" y1="286.52" x2="422.80" y2="286.52" stroke="#231f20" stroke-width="0.6"/>
<line x1="421.60" y1="284.88" x2="422.80" y2="284.88" stroke="#231f20" stroke-width="0.6"/>
<line x1="421.60" y1="283.60" x2="422.80" y2="283.60" stroke="#231f20" stroke-width="0.6"/>
<line x1="421.60" y1="282.56" x2="422.80" y2="282.56" stroke="#231f20" stroke-width="0.6"/>
<line x1="421.60" y1="281.68" x2="422.80" y2="281.68" stroke="#231f20" stroke-width="0.6"/>
<line x1="421.60" y1="280.92" x2="422.80" y2="280.92" stroke="#231f20" stroke-width="0.6"/>
<line x1="421.60" y1="280.24" x2="422.80" y2="280.24" stroke="#231f20" stroke-width="0.6"/>
<line x1="420.20" y1="279.64" x2="422.80" y2="279.64" stroke="#231f20" stroke-width="0.9"/>
<text x="417.10" y="281.84" font-size="5.1" text-anchor="end" style="stroke-width:0.05px">0.1</text>
<line x1="421.60" y1="275.68" x2="422.80" y2="275.68" stroke="#231f20" stroke-width="0.6"/>
<line x1="421.60" y1="273.36" x2="422.80" y2="273.36" stroke="#231f20" stroke-width="0.6"/>
<line x1="421.60" y1="271.72" x2="422.80" y2="271.72" stroke="#231f20" stroke-width="0.6"/>
<line x1="421.60" y1="270.44" x2="422.80" y2="270.44" stroke="#231f20" stroke-width="0.6"/>
<line x1="421.60" y1="269.40" x2="422.80" y2="269.40" stroke="#231f20" stroke-width="0.6"/>
<line x1="421.60" y1="268.52" x2="422.80" y2="268.52" stroke="#231f20" stroke-width="0.6"/>
<line x1="421.60" y1="267.76" x2="422.80" y2="267.76" stroke="#231f20" stroke-width="0.6"/>
<line x1="421.60" y1="267.08" x2="422.80" y2="267.08" stroke="#231f20" stroke-width="0.6"/>
<line x1="420.20" y1="266.48" x2="422.80" y2="266.48" stroke="#231f20" stroke-width="0.9"/>
<text x="417.10" y="268.68" font-size="5.1" text-anchor="end" style="stroke-width:0.05px">1</text>
<line x1="421.60" y1="262.52" x2="422.80" y2="262.52" stroke="#231f20" stroke-width="0.6"/>
<line x1="421.60" y1="260.20" x2="422.80" y2="260.20" stroke="#231f20" stroke-width="0.6"/>
<line x1="421.60" y1="258.56" x2="422.80" y2="258.56" stroke="#231f20" stroke-width="0.6"/>
<line x1="421.60" y1="257.28" x2="422.80" y2="257.28" stroke="#231f20" stroke-width="0.6"/>
<line x1="421.60" y1="256.24" x2="422.80" y2="256.24" stroke="#231f20" stroke-width="0.6"/>
<line x1="421.60" y1="255.36" x2="422.80" y2="255.36" stroke="#231f20" stroke-width="0.6"/>
<line x1="421.60" y1="254.60" x2="422.80" y2="254.60" stroke="#231f20" stroke-width="0.6"/>
<line x1="421.60" y1="253.92" x2="422.80" y2="253.92" stroke="#231f20" stroke-width="0.6"/>
<line x1="420.20" y1="253.32" x2="422.80" y2="253.32" stroke="#231f20" stroke-width="0.9"/>
<text x="417.10" y="255.52" font-size="5.1" text-anchor="end" style="stroke-width:0.05px">10</text>
<line x1="421.60" y1="249.36" x2="422.80" y2="249.36" stroke="#231f20" stroke-width="0.6"/>
<line x1="421.60" y1="247.04" x2="422.80" y2="247.04" stroke="#231f20" stroke-width="0.6"/>
<line x1="421.60" y1="245.40" x2="422.80" y2="245.40" stroke="#231f20" stroke-width="0.6"/>
<line x1="421.60" y1="244.12" x2="422.80" y2="244.12" stroke="#231f20" stroke-width="0.6"/>
<line x1="421.60" y1="243.08" x2="422.80" y2="243.08" stroke="#231f20" stroke-width="0.6"/>
<line x1="421.60" y1="242.20" x2="422.80" y2="242.20" stroke="#231f20" stroke-width="0.6"/>
<line x1="421.60" y1="241.44" x2="422.80" y2="241.44" stroke="#231f20" stroke-width="0.6"/>
<line x1="421.60" y1="240.76" x2="422.80" y2="240.76" stroke="#231f20" stroke-width="0.6"/>
<line x1="420.20" y1="240.16" x2="422.80" y2="240.16" stroke="#231f20" stroke-width="0.9"/>
<text x="417.10" y="242.36" font-size="5.1" text-anchor="end" style="stroke-width:0.05px">100</text>
<line x1="421.60" y1="236.20" x2="422.80" y2="236.20" stroke="#231f20" stroke-width="0.6"/>
<line x1="421.60" y1="233.88" x2="422.80" y2="233.88" stroke="#231f20" stroke-width="0.6"/>
<line x1="421.60" y1="232.24" x2="422.80" y2="232.24" stroke="#231f20" stroke-width="0.6"/>
<line x1="421.60" y1="230.96" x2="422.80" y2="230.96" stroke="#231f20" stroke-width="0.6"/>
<line x1="421.60" y1="229.92" x2="422.80" y2="229.92" stroke="#231f20" stroke-width="0.6"/>
<line x1="421.60" y1="229.04" x2="422.80" y2="229.04" stroke="#231f20" stroke-width="0.6"/>
<line x1="421.60" y1="228.28" x2="422.80" y2="228.28" stroke="#231f20" stroke-width="0.6"/>
<line x1="421.60" y1="227.60" x2="422.80" y2="227.60" stroke="#231f20" stroke-width="0.6"/>
<line x1="420.20" y1="227.00" x2="422.80" y2="227.00" stroke="#231f20" stroke-width="0.9"/>
<text x="417.10" y="229.20" font-size="5.1" text-anchor="end" style="stroke-width:0.05px">1000</text>
<line x1="426.70" y1="292.80" x2="426.70" y2="295.80" stroke="#231f20" stroke-width="0.9"/>
<text transform="translate(428.90,300.30) rotate(-45)" font-size="5.1" text-anchor="end" style="stroke-width:0.15px">Pre</text>
<line x1="434.27" y1="292.80" x2="434.27" y2="295.80" stroke="#231f20" stroke-width="0.9"/>
<text transform="translate(436.47,300.30) rotate(-45)" font-size="5.1" text-anchor="end" style="stroke-width:0.15px">1h</text>
<line x1="441.84" y1="292.80" x2="441.84" y2="295.80" stroke="#231f20" stroke-width="0.9"/>
<text transform="translate(444.04,300.30) rotate(-45)" font-size="5.1" text-anchor="end" style="stroke-width:0.15px">2h</text>
<line x1="449.41" y1="292.80" x2="449.41" y2="295.80" stroke="#231f20" stroke-width="0.9"/>
<text transform="translate(451.61,300.30) rotate(-45)" font-size="5.1" text-anchor="end" style="stroke-width:0.15px">3h</text>
<line x1="456.98" y1="292.80" x2="456.98" y2="295.80" stroke="#231f20" stroke-width="0.9"/>
<text transform="translate(459.18,300.30) rotate(-45)" font-size="5.1" text-anchor="end" style="stroke-width:0.15px">4h</text>
<line x1="464.55" y1="292.80" x2="464.55" y2="295.80" stroke="#231f20" stroke-width="0.9"/>
<text transform="translate(466.75,300.30) rotate(-45)" font-size="5.1" text-anchor="end" style="stroke-width:0.15px">6h</text>
<line x1="472.12" y1="292.80" x2="472.12" y2="295.80" stroke="#231f20" stroke-width="0.9"/>
<text transform="translate(474.32,300.30) rotate(-45)" font-size="5.1" text-anchor="end" style="stroke-width:0.15px">8h</text>
<line x1="479.69" y1="292.80" x2="479.69" y2="295.80" stroke="#231f20" stroke-width="0.9"/>
<text transform="translate(481.89,300.30) rotate(-45)" font-size="5.1" text-anchor="end" style="stroke-width:0.15px">12h</text>
<line x1="487.26" y1="292.80" x2="487.26" y2="295.80" stroke="#231f20" stroke-width="0.9"/>
<text transform="translate(489.46,300.30) rotate(-45)" font-size="5.1" text-anchor="end" style="stroke-width:0.15px">D1</text>
<line x1="494.83" y1="292.80" x2="494.83" y2="295.80" stroke="#231f20" stroke-width="0.9"/>
<text transform="translate(497.03,300.30) rotate(-45)" font-size="5.1" text-anchor="end" style="stroke-width:0.15px">D2</text>
<line x1="502.40" y1="292.80" x2="502.40" y2="295.80" stroke="#231f20" stroke-width="0.9"/>
<text transform="translate(504.60,300.30) rotate(-45)" font-size="5.1" text-anchor="end" style="stroke-width:0.15px">D3</text>
<line x1="509.97" y1="292.80" x2="509.97" y2="295.80" stroke="#231f20" stroke-width="0.9"/>
<text transform="translate(512.17,300.30) rotate(-45)" font-size="5.1" text-anchor="end" style="stroke-width:0.15px">D7</text>
<text transform="translate(401.30,259.65) rotate(-90)" font-size="6.0" text-anchor="middle" textLength="67.90" lengthAdjust="spacingAndGlyphs" style="stroke-width:0.25px">Vector copies (×10<tspan font-size="3.4" dy="-1.6">8</tspan><tspan dy="1.6">)/ml serum</tspan></text>
<path d="M433.90 237.40 L441.50 242.30 L449.10 245.50 L457.00 246.40 L464.40 248.40 L472.00 252.40 L479.40 256.50 L486.80 266.50 L494.40 288.50" fill="none" stroke="#0e4781" stroke-width="1.4" stroke-linejoin="round"/>
<circle cx="433.90" cy="237.40" r="1.75" fill="#0e4781"/>
<circle cx="441.50" cy="242.30" r="1.75" fill="#0e4781"/>
<circle cx="449.10" cy="245.50" r="1.75" fill="#0e4781"/>
<circle cx="457.00" cy="246.40" r="1.75" fill="#0e4781"/>
<circle cx="464.40" cy="248.40" r="1.75" fill="#0e4781"/>
<circle cx="472.00" cy="252.40" r="1.75" fill="#0e4781"/>
<circle cx="479.40" cy="256.50" r="1.75" fill="#0e4781"/>
<circle cx="486.80" cy="266.50" r="1.75" fill="#0e4781"/>
<circle cx="494.40" cy="288.50" r="1.75" fill="#0e4781"/>
</g>
<rect x="0.5" y="0.5" width="519" height="311" fill="none" stroke="#000" stroke-width="1"/>
</svg>
</body></html>
